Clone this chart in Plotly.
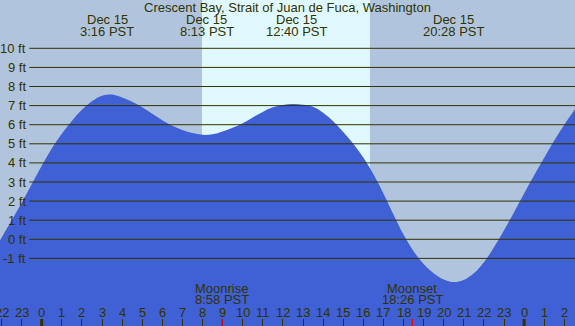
import plotly.graph_objects as go

# ---- data ----
title_text = "Crescent Bay, Strait of Juan de Fuca, Washington"

# hours relative to midnight Dec 15 (PST), tide height in feet (read every half hour)
tide_hours = [-2.08, -2, -1.5, -1, -0.5, 0, 0.5, 1, 1.5, 2, 2.5, 3, 3.5, 4, 4.5, 5, 5.5, 6,
              6.5, 7, 7.5, 8, 8.5, 9, 9.5, 10, 10.5, 11, 11.5, 12, 12.5, 13, 13.5, 14,
              14.5, 15, 15.5, 16, 16.5, 17, 17.5, 18, 18.5, 19, 19.5, 20, 20.5, 21, 21.5,
              22, 22.5, 23, 23.5, 24, 24.5, 25, 25.5, 26, 26.55]
tide_ft = [-0.06, 0.08, 0.98, 1.9, 2.88, 3.85, 4.75, 5.53, 6.2, 6.78, 7.23, 7.52, 7.58, 7.42,
           7.2, 6.92, 6.58, 6.24, 5.95, 5.72, 5.56, 5.47, 5.5, 5.65, 5.84, 6.08, 6.38, 6.67,
           6.91, 7.03, 7.08, 7.04, 6.94, 6.63, 6.18, 5.62, 5.0, 4.28, 3.42, 2.4, 1.3, 0.25,
           -0.62, -1.3, -1.78, -2.1, -2.24, -2.13, -1.78, -1.2, -0.42, 0.47, 1.42, 2.4, 3.35,
           4.27, 5.17, 6.0, 6.83]

event_hours = [3.27, 8.22, 12.67, 20.47]
event_dates = ["Dec 15", "Dec 15", "Dec 15", "Dec 15"]
event_times = ["3:16 PST", "8:13 PST", "12:40 PST", "20:28 PST"]

moon_hours = [8.967, 18.433]
moon_names = ["Moonrise", "Moonset"]
moon_times = ["8:58 PST", "18:26 PST"]

sunrise_hour = 7.975
sunset_hour = 16.33

hour_ticks = list(range(-2, 27))
hour_labels = [str(h % 24) for h in hour_ticks]
midnight_hours = [0, 24]

ft_ticks = [-1, 0, 1, 2, 3, 4, 5, 6, 7, 8, 9, 10]
ft_labels = [f"{v} ft" for v in ft_ticks]

# ---- styles ----
W, H = 575, 326
night_col = "#B0C4DE"
day_col = "#E0F8FF"
fill_col = "#4060D6"
text_col = "#333300"
FONT = "Liberation Sans, Arial, sans-serif"
x_range = [-2.0746, 26.532]
y_range = [-4.54, 12.53]


def py(p):
    return 1 - p / H


fig = go.Figure()
base_y = y_range[0] - 1
fig.add_trace(go.Scatter(x=[tide_hours[0], tide_hours[-1]], y=[base_y, base_y],
                         mode="lines", line=dict(width=0), hoverinfo="skip",
                         showlegend=False))
fig.add_trace(go.Scatter(x=tide_hours, y=tide_ft, mode="lines",
                         line=dict(color=fill_col, width=0, shape="spline", smoothing=1),
                         fill="tonexty", fillcolor=fill_col, showlegend=False))

shapes = []
shapes.append(dict(type="rect", xref="x", yref="paper", x0=sunrise_hour, x1=sunset_hour,
                   y0=0, y1=1, fillcolor=day_col, line=dict(width=0), layer="below"))
for v in ft_ticks:
    shapes.append(dict(type="line", xref="paper", yref="y", x0=29.3 / W, x1=1, y0=v, y1=v,
                       line=dict(color=text_col, width=1), layer="above"))
for h in midnight_hours:
    shapes.append(dict(type="line", xref="x", yref="paper", x0=h, x1=h, y0=0, y1=7 / H,
                       line=dict(color=text_col, width=3), layer="above"))
for h in moon_hours:
    shapes.append(dict(type="line", xref="x", yref="paper", x0=h, x1=h, y0=0, y1=7 / H,
                       line=dict(color="#FF0000", width=1.5), layer="above"))

font = dict(size=13, color=text_col, family=FONT)
ann = []
ann.append(dict(text=title_text, xref="paper", yref="paper", x=0.5, y=py(8), showarrow=False,
                xanchor="center", yanchor="middle", font=font))
for h, d, t in zip(event_hours, event_dates, event_times):
    ann.append(dict(text=d, xref="x", yref="paper", x=h, y=py(19.5), showarrow=False,
                    xanchor="center", yanchor="middle", font=font))
    ann.append(dict(text=t, xref="x", yref="paper", x=h, y=py(31.5), showarrow=False,
                    xanchor="center", yanchor="middle", font=font))
for h, n, t in zip(moon_hours, moon_names, moon_times):
    ann.append(dict(text=n, xref="x", yref="paper", x=h, y=py(288), showarrow=False,
                    xanchor="center", yanchor="middle", font=font))
    ann.append(dict(text=t, xref="x", yref="paper", x=h, y=py(299), showarrow=False,
                    xanchor="center", yanchor="middle", font=font))
for h, lab in zip(hour_ticks, hour_labels):
    ann.append(dict(text=lab, xref="x", yref="paper", x=h, y=py(312), showarrow=False,
                    xanchor="center", yanchor="middle", font=font))
for v, lab in zip(ft_ticks, ft_labels):
    ann.append(dict(text=lab, xref="paper", yref="y", x=27.5 / W, y=v, showarrow=False,
                    xanchor="right", yanchor="middle", font=font))

fig.update_layout(
    width=W, height=H, margin=dict(l=0, r=0, t=0, b=0, pad=0),
    paper_bgcolor=night_col, plot_bgcolor=night_col,
    shapes=shapes, annotations=ann, showlegend=False,
    xaxis=dict(range=x_range, showgrid=False, zeroline=False, showline=False,
               tickvals=hour_ticks, ticks="inside", ticklen=7, tickwidth=1,
               tickcolor=text_col, showticklabels=False, fixedrange=True),
    yaxis=dict(range=y_range, showgrid=False, zeroline=False, showline=False,
               showticklabels=False, ticks="", fixedrange=True),
)

fig.write_html("out.html", config={"displayModeBar": False},
               post_script="document.body.style.margin='0px';document.body.style.overflow='hidden';")
